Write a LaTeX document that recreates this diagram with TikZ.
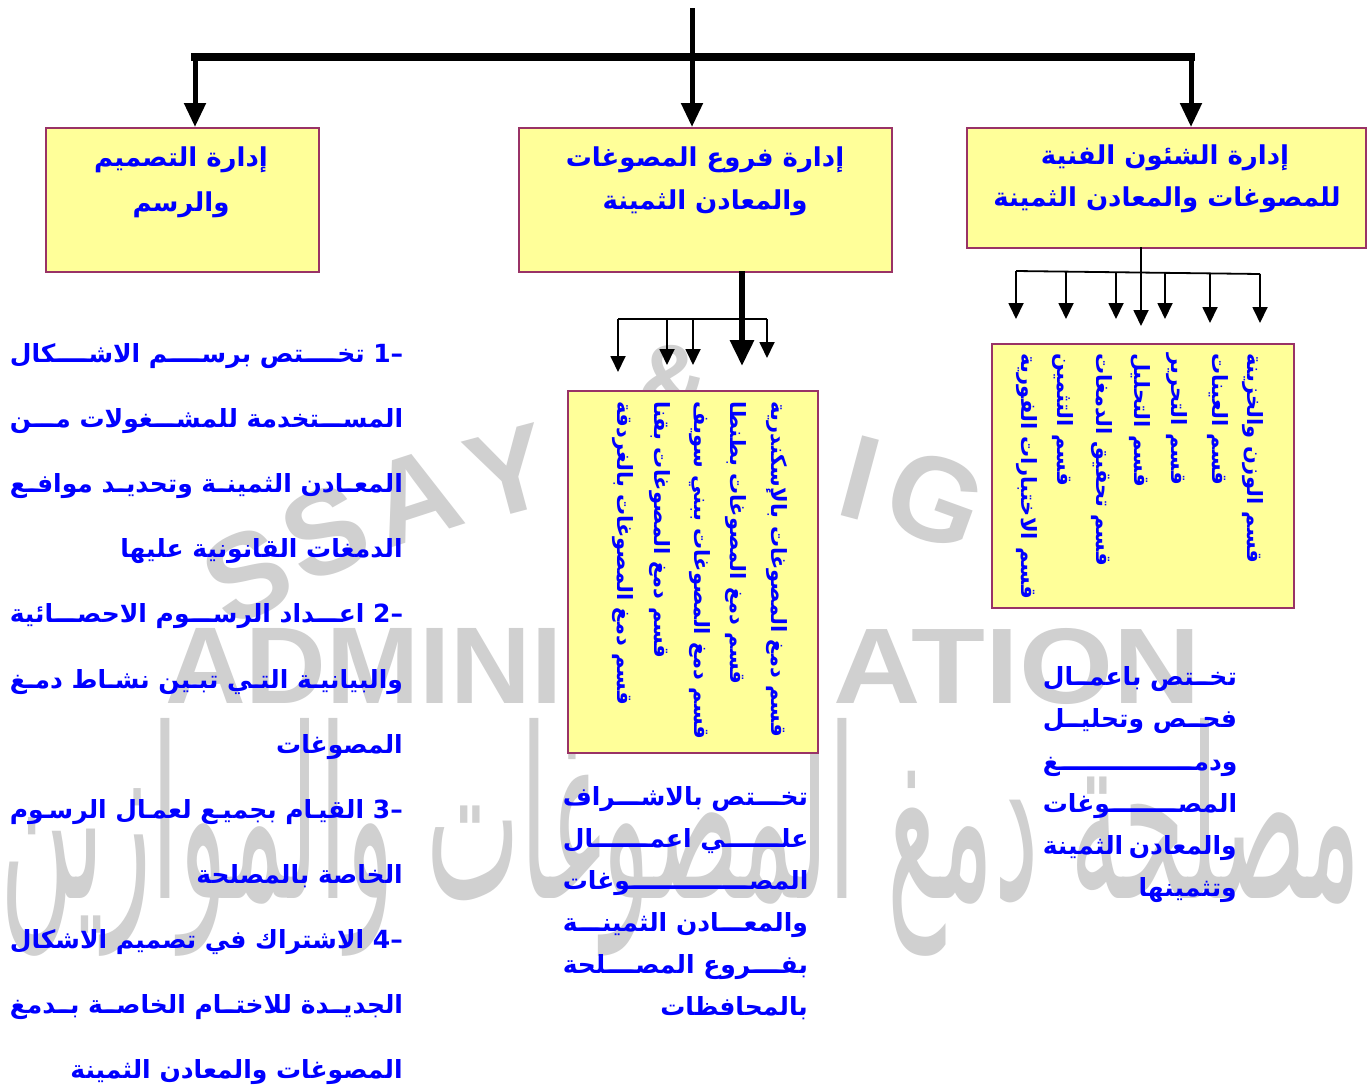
\documentclass[tikz,border=0pt]{standalone}
\usepackage{fontspec}
\usepackage{graphicx}
\usetikzlibrary{arrows.meta}
\TeXXeTstate=1
\newfontfamily\arabicfont[Script=Arabic]{DejaVu Sans}
\newfontfamily\wmfont{Liberation Sans}
\definecolor{boxfill}{HTML}{FFFF99}
\definecolor{boxline}{HTML}{993366}
\definecolor{txtblue}{HTML}{0000FF}
\definecolor{wmgray}{HTML}{D0D0D0}
\newcommand\kfill{\xleaders\hbox to 1pt{\hss ـ\hss}\hfill}
\newcommand\kf{^^^^200d\kfill{}^^^^200d}
\tikzset{
  ybox/.style={draw=boxline, line width=1.6pt, fill=boxfill, inner sep=0pt, anchor=north west},
  titletext/.style={text=txtblue, font=\arabicfont\bfseries\fontsize{26}{30}\selectfont, inner sep=0pt},
  coltext/.style={text=txtblue, font=\arabicfont\bfseries\fontsize{21}{22}\selectfont, inner sep=0pt, rotate=-90, anchor=west},
  bodytext/.style={text=txtblue, font=\arabicfont\bfseries\fontsize{25}{28}\selectfont, inner sep=0pt, anchor=base east},
  notetext/.style={text=txtblue, font=\arabicfont\bfseries\fontsize{25}{28}\selectfont, inner sep=0pt, anchor=base east},
  wmletter/.style={text=wmgray, font=\wmfont\bfseries\fontsize{120}{120}\selectfont, inner sep=0pt},
  wmblock/.style={text=wmgray, inner sep=0pt, anchor=north west},
  bigarrow/.style={line width=5pt, -{Triangle[length=24pt,width=21pt]}},
  midarrow/.style={line width=6pt, -{Triangle[length=26pt,width=23pt]}},
  thinarrow/.style={line width=1.8pt, -{Triangle[length=16pt,width=15pt]}},
  thinline/.style={line width=1.8pt},
  barline/.style={line width=8pt, line cap=rect},
}
\begin{document}
\begin{tikzpicture}[x=1pt,y=-1pt]
\useasboundingbox (0,0) rectangle (1370,1090);
\fill[white] (0,0) rectangle (1370,1090);

% ---------- watermark ----------
\node[wmletter, rotate=25] (w1) at (247,575) {S};
\node[wmletter, rotate=22] (w2) at (325,532) {S};
\node[wmletter, rotate=18] (w3) at (415,497) {A};
\node[wmletter, rotate=15] (w4) at (508,472) {Y};
\node[wmletter, rotate=5, font=\wmfont\bfseries\fontsize{100}{100}\selectfont] (w5) at (672,380) {\&};
\node[wmletter, rotate=-15] (w6) at (860,478) {I};
\node[wmletter, rotate=-20] (w7) at (935,500) {G};
\node[wmblock] (w8a) at (165,628) {\resizebox{397pt}{75pt}{\wmfont\bfseries ADMINI}};
\node[wmblock] (w8b) at (833,628) {\resizebox{367pt}{75pt}{\wmfont\bfseries ATION}};
\node[wmblock] (w9) at (0,718)
  {\resizebox{1360pt}{180pt}{\arabicfont\beginR مصلحة دمغ المصوغات والموازين\endR}};

% ---------- top boxes ----------
\node[ybox, minimum width=273pt, minimum height=144pt] (bL) at (45,127) {};
\node[ybox, minimum width=373pt, minimum height=144pt] (bM) at (518,127) {};
\node[ybox, minimum width=399pt, minimum height=120pt] (bR) at (966,127) {};

\node[titletext] (tL1) at (181,160) {\beginR إدارة التصميم\endR};
\node[titletext] (tL2) at (181,205) {\beginR والرسم\endR};
\node[titletext] (tM1) at (705,160) {\beginR إدارة فروع المصوغات\endR};
\node[titletext] (tM2) at (705,203) {\beginR والمعادن الثمينة\endR};
\node[titletext] (tR1) at (1165,158) {\beginR إدارة الشئون الفنية\endR};
\node[titletext] (tR2) at (1167,200) {\beginR للمصوغات والمعادن الثمينة\endR};

% ---------- sub boxes ----------
\node[ybox, minimum width=250pt, minimum height=362pt] (sM) at (567,390) {};
\node[ybox, minimum width=302pt, minimum height=264pt] (sR) at (991,343) {};

\node[coltext] (m1) at (777,401) {\beginR قسم دمغ المصوغات بالإسكندرية\endR};
\node[coltext] (m2) at (736,401) {\beginR قسم دمغ المصوغات بطنطا\endR};
\node[coltext] (m3) at (700,401) {\beginR قسم دمغ المصوغات ببني سويف\endR};
\node[coltext] (m4) at (660,401) {\beginR قسم دمغ المصوغات بقنا\endR};
\node[coltext] (m5) at (623,401) {\beginR قسم دمغ المصوغات بالغردقة\endR};

\node[coltext] (r1) at (1253,353) {\beginR قسم الوزن والخزينة\endR};
\node[coltext] (r2) at (1218,353) {\beginR قسم العينات\endR};
\node[coltext] (r3) at (1177,353) {\beginR قسم التحرير\endR};
\node[coltext] (r4) at (1140,353) {\beginR قسم التحليل\endR};
\node[coltext] (r5) at (1102,353) {\beginR قسم تحقيق الدمغات\endR};
\node[coltext] (r6) at (1063,353) {\beginR قسم التثمين\endR};
\node[coltext] (r7) at (1027,353) {\beginR قسم الاختبارات الفورية\endR};

% ---------- connectors ----------
\coordinate (top) at (692,8);
\coordinate (barL) at (195,57);
\coordinate (barR) at (1191,57);
\draw[barline] (barL) -- (barR);
\draw[bigarrow] (top) -- (top |- bM.north);
\draw[bigarrow] (barL) -- (barL |- bL.north);
\draw[bigarrow] (barR) -- (barR |- bR.north);

% middle group
\coordinate (mS) at (742,271);
\coordinate (mT) at (742,366);
\draw[midarrow] (mS) -- (mT);
\coordinate (mh1) at (618,319);
\coordinate (mh2) at (667,319);
\coordinate (mh3) at (693,319);
\coordinate (mh5) at (767,319);
\coordinate (mt1) at (618,372);
\coordinate (mt2) at (667,365);
\coordinate (mt3) at (693,365);
\coordinate (mt5) at (767,358);
\draw[thinline] (mh1) -- (mh5);
\draw[thinarrow] (mh1) -- (mt1);
\draw[thinarrow] (mh2) -- (mt2);
\draw[thinarrow] (mh3) -- (mt3);
\draw[thinarrow] (mh5) -- (mt5);

% right group
\coordinate (rS) at (1141,247);
\coordinate (rT) at (1141,326);
\draw[thinarrow] (rS) -- (rT);
\coordinate (rh1) at (1016,271);
\coordinate (rh2) at (1066,271.6);
\coordinate (rh3) at (1116,272.2);
\coordinate (rh5) at (1165,272.8);
\coordinate (rh6) at (1210,273.4);
\coordinate (rh7) at (1260,274);
\coordinate (rt1) at (1016,319);
\coordinate (rt2) at (1066,319);
\coordinate (rt3) at (1116,319);
\coordinate (rt5) at (1165,319);
\coordinate (rt6) at (1210,323);
\coordinate (rt7) at (1260,323);
\draw[thinline] (rh1) -- (rh7);
\draw[thinarrow] (rh1) -- (rt1);
\draw[thinarrow] (rh2) -- (rt2);
\draw[thinarrow] (rh3) -- (rt3);
\draw[thinarrow] (rh5) -- (rt5);
\draw[thinarrow] (rh6) -- (rt6);
\draw[thinarrow] (rh7) -- (rt7);

% ---------- left text ----------
\node[bodytext] (l1) at (403,362) {\hbox to 393pt{\beginR\beginL –1\endL\ تخ\kf تص برس\kf م الاش\kf كال\endR}};
\node[bodytext] (l2) at (403,427) {\hbox to 393pt{\beginR المس\kf تخدمة للمش\kf غولات م\kf ن\endR}};
\node[bodytext] (l3) at (403,492) {\hbox to 393pt{\beginR المع\kf ادن الثمين\kf ة وتحدي\kf د مواف\kf ع\endR}};
\node[bodytext] (l4) at (403,557) {\beginR الدمغات القانونية عليها\endR};
\node[bodytext] (l5) at (403,622) {\hbox to 393pt{\beginR\beginL –2\endL\ اع\kf داد الرس\kf وم الاحص\kf ائية\endR}};
\node[bodytext] (l6) at (403,688) {\hbox to 393pt{\beginR والبياني\kf ة الت\kf ي تب\kf ين نش\kf اط دم\kf غ\endR}};
\node[bodytext] (l7) at (403,753) {\beginR المصوغات\endR};
\node[bodytext] (l8) at (403,818) {\hbox to 393pt{\beginR\beginL –3\endL\ القي\kf ام بجمي\kf ع لعم\kf ال الرس\kf وم\endR}};
\node[bodytext] (l9) at (403,883) {\beginR الخاصة بالمصلحة\endR};
\node[bodytext] (l10) at (403,948) {\hbox to 393pt{\beginR\beginL –4\endL\ الاشتراك\hfill في\hfill تصميم\hfill الاشكال\endR}};
\node[bodytext] (l11) at (403,1013) {\hbox to 393pt{\beginR الجدي\kf دة للاخت\kf ام الخاص\kf ة ب\kf دمغ\endR}};
\node[bodytext] (l12) at (403,1078) {\beginR المصوغات والمعادن الثمينة\endR};

% ---------- middle note ----------
\node[notetext] (n1) at (808,805) {\hbox to 245pt{\beginR تخ\kf تص بالاش\kf راف\endR}};
\node[notetext] (n2) at (808,847) {\hbox to 245pt{\beginR عل\kf ي اعم\kf ال\endR}};
\node[notetext] (n3) at (808,889) {\hbox to 245pt{\beginR المص\kf وغات\endR}};
\node[notetext] (n4) at (808,931) {\hbox to 245pt{\beginR والمع\kf ادن الثمين\kf ة\endR}};
\node[notetext] (n5) at (808,973) {\hbox to 245pt{\beginR بف\kf روع المص\kf لحة\endR}};
\node[notetext] (n6) at (808,1015) {\beginR بالمحافظات\endR};

% ---------- right note ----------
\node[notetext] (p1) at (1237,685) {\hbox to 194pt{\beginR تخ\kf تص باعم\kf ال\endR}};
\node[notetext] (p2) at (1237,727) {\hbox to 194pt{\beginR فح\kf ص وتحلي\kf ل\endR}};
\node[notetext] (p3) at (1237,770) {\hbox to 194pt{\beginR ودم\kf غ\endR}};
\node[notetext] (p4) at (1237,812) {\hbox to 194pt{\beginR المص\kf وغات\endR}};
\node[notetext] (p5) at (1237,854) {\hbox to 194pt{\beginR والمعادن\hfill الثمينة\endR}};
\node[notetext] (p6) at (1237,896) {\beginR وتثمينها\endR};
\end{tikzpicture}
\end{document}
